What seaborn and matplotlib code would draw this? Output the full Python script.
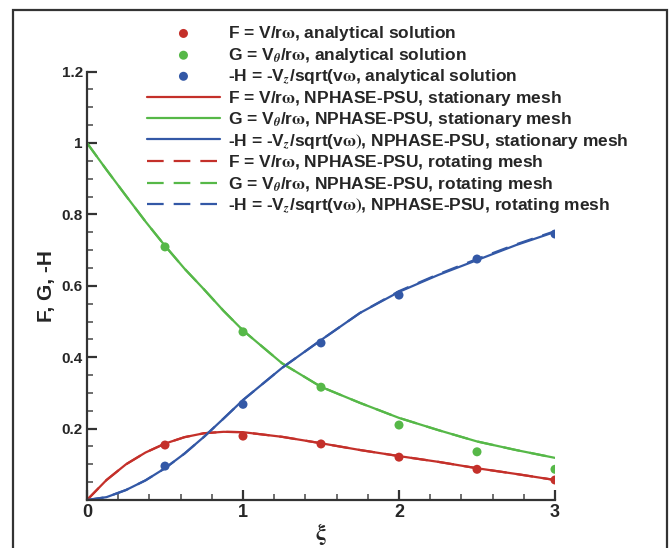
import matplotlib
matplotlib.use('Agg')
import matplotlib.pyplot as plt
import matplotlib.patches as patches
from matplotlib.ticker import MultipleLocator
import seaborn as sns

# analytical solution points
xi_pts = [0.5, 1.0, 1.5, 2.0, 2.5, 3.0]
F_pts = [0.154, 0.179, 0.157, 0.120, 0.086, 0.056]
G_pts = [0.709, 0.471, 0.316, 0.210, 0.135, 0.086]
H_pts = [0.095, 0.268, 0.440, 0.574, 0.675, 0.745]

# NPHASE-PSU curves
xi_line = [0, 0.125, 0.25, 0.375, 0.5, 0.625, 0.75, 0.875, 1.0, 1.25, 1.5, 1.75, 2.0, 2.25, 2.5, 2.75, 3.0]
F_stat = [0, 0.056, 0.100, 0.133, 0.158, 0.176, 0.187, 0.191, 0.190, 0.177, 0.159, 0.140, 0.123, 0.107, 0.089, 0.073, 0.056]
G_stat = [1.0, 0.925, 0.852, 0.780, 0.712, 0.648, 0.590, 0.530, 0.475, 0.383, 0.317, 0.272, 0.230, 0.196, 0.164, 0.140, 0.118]
H_stat = [0, 0.008, 0.028, 0.055, 0.089, 0.130, 0.177, 0.228, 0.280, 0.370, 0.448, 0.524, 0.583, 0.630, 0.672, 0.714, 0.751]
F_rot = [0, 0.056, 0.100, 0.133, 0.158, 0.176, 0.187, 0.191, 0.190, 0.177, 0.159, 0.140, 0.123, 0.107, 0.089, 0.073, 0.056]
G_rot = [1.0, 0.925, 0.852, 0.780, 0.712, 0.648, 0.590, 0.530, 0.475, 0.383, 0.317, 0.272, 0.230, 0.196, 0.164, 0.140, 0.118]
H_rot = [0, 0.008, 0.028, 0.055, 0.089, 0.130, 0.177, 0.228, 0.280, 0.370, 0.448, 0.524, 0.585, 0.632, 0.675, 0.716, 0.753]

w = r'$\mathrm{\omega}$'
labels_pts = ['F = V/r' + w + ', analytical solution',
              r'G = V$_\theta$/r' + w + ', analytical solution',
              r'-H = -V$_z$/sqrt(v' + w + ', analytical solution']
labels_stat = ['F = V/r' + w + ', NPHASE-PSU, stationary mesh',
               r'G = V$_\theta$/r' + w + ', NPHASE-PSU, stationary mesh',
               r'-H = -V$_z$/sqrt(v$\mathrm{\omega)}$, NPHASE-PSU, stationary mesh']
labels_rot = ['F = V/r' + w + ', NPHASE-PSU, rotating mesh',
              r'G = V$_\theta$/r' + w + ', NPHASE-PSU, rotating mesh',
              r'-H = -V$_z$/sqrt(v$\mathrm{\omega)}$, NPHASE-PSU, rotating mesh']

colors = ['#c4302a', '#56b848', '#3358a6']

sns.set_style('ticks')
plt.rcParams['font.family'] = ['Liberation Sans', 'DejaVu Sans']
plt.rcParams['font.weight'] = 'bold'
plt.rcParams['mathtext.fontset'] = 'stix'

fig = plt.figure(figsize=(6.71, 5.48), dpi=100)
ax = fig.add_axes([87/671, 48/548, 468/671, 428.4/548])

for y, c, lab in zip([F_pts, G_pts, H_pts], colors, labels_pts):
    sns.scatterplot(x=xi_pts, y=y, color=c, s=42, edgecolor='none', label=lab, ax=ax, zorder=3)
for y, c, lab in zip([F_stat, G_stat, H_stat], colors, labels_stat):
    sns.lineplot(x=xi_line, y=y, color=c, lw=1.6, label=lab, ax=ax)
for y, c, lab in zip([F_rot, G_rot, H_rot], colors, labels_rot):
    sns.lineplot(x=xi_line, y=y, color=c, lw=1.6, dashes=(7.5, 4.5), label=lab, ax=ax)

ax.set_xlim(0, 3)
ax.set_ylim(0, 1.2)
ax.xaxis.set_minor_locator(MultipleLocator(0.2))
ax.yaxis.set_minor_locator(MultipleLocator(0.05))
ax.set_xticks([0, 1, 2, 3])
ax.set_xticklabels(['0', '1', '2', '3'], fontsize=13, fontweight='bold')
ax.set_yticks([0.2, 0.4, 0.6, 0.8, 1.0, 1.2])
ax.set_yticklabels(['0.2', '0.4', '0.6', '0.8', '1', '1.2'], fontsize=11, fontweight='bold')
ax.tick_params(which='major', direction='in', length=7, width=1.6, color='#333333', pad=3)
ax.tick_params(which='minor', direction='in', length=4, width=1.2, color='#555555')
sns.despine(ax=ax)
for s in ['left', 'bottom']:
    ax.spines[s].set_linewidth(1.6)
    ax.spines[s].set_color('#333333')

ax.set_xlabel(r'$\mathrm{\xi}$', fontsize=16, labelpad=0)
ax.set_ylabel('F, G, -H', fontsize=15, fontweight='bold', labelpad=4)

ax.legend(loc='upper left', bbox_to_anchor=(147/671, 1 - 24/548), bbox_transform=fig.transFigure,
          frameon=False, fontsize=12.5, handlelength=4.2, handletextpad=0.45,
          labelspacing=0.16, borderpad=0, borderaxespad=0)

# outer frame around the figure
rect = patches.Rectangle((13/671, -0.05), 654/671, 1.05 - 10/548, transform=fig.transFigure,
                         fill=False, edgecolor='#333333', lw=1.6, clip_on=False)
fig.add_artist(rect)

fig.savefig('out.png', dpi=100)
